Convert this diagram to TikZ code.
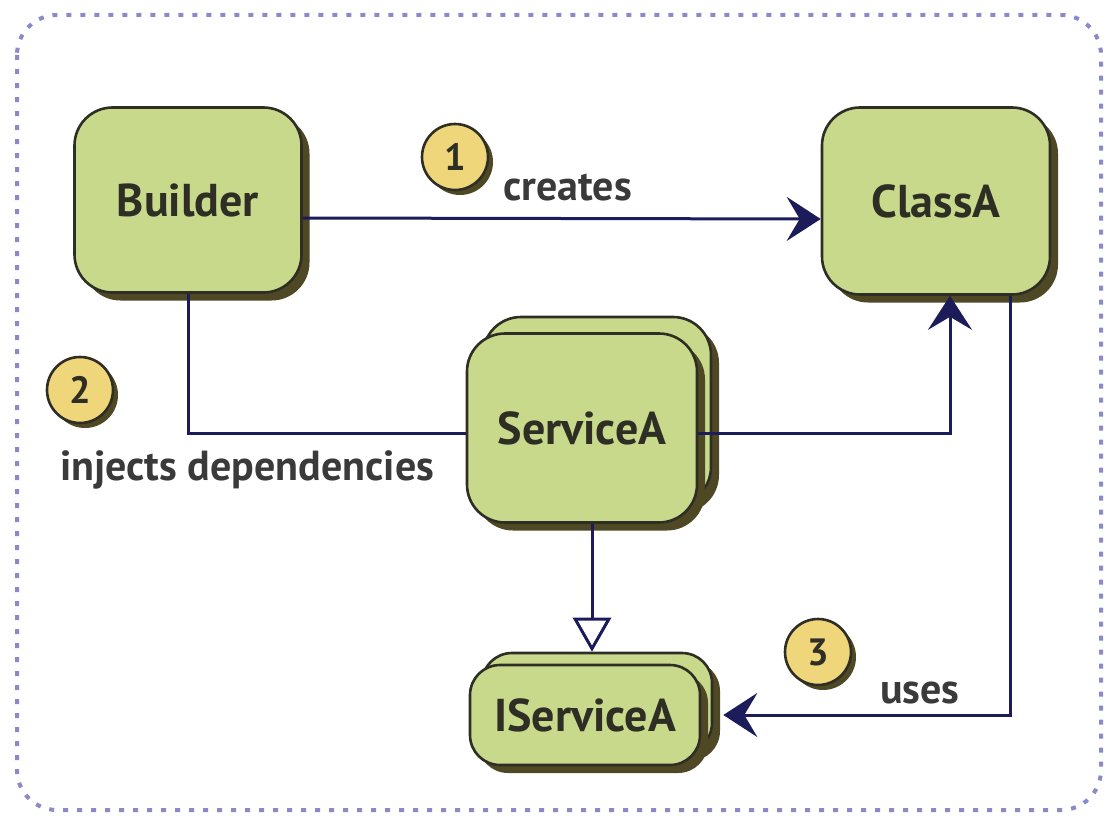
\documentclass[tikz,border=0pt]{standalone}
\usepackage{fontspec}
\setmainfont{PT Sans}
\usetikzlibrary{arrows.meta,shadows}
\definecolor{boxfill}{HTML}{C8D98C}
\definecolor{boxline}{HTML}{2E2E24}
\definecolor{shadowc}{HTML}{4F4824}
\definecolor{navy}{HTML}{1C1C5A}
\definecolor{frame}{HTML}{8A8AC8}
\definecolor{badge}{HTML}{F0D67A}
\definecolor{labtext}{HTML}{3A3A3A}
\tikzset{
  box/.style={draw=boxline, line width=2.6pt, fill=boxfill, rounded corners=38pt,
    text=boxline, font=\bfseries\fontsize{46}{52}\selectfont,
    drop shadow={shadow xshift=8pt, shadow yshift=-8pt, fill=shadowc, opacity=1}},
  smallbox/.style={box, rounded corners=30pt},
  badgec/.style={circle, draw=boxline, line width=2.6pt, fill=badge, minimum size=66pt, inner sep=0pt,
    text=boxline, font=\bfseries\fontsize{38}{42}\selectfont,
    drop shadow={shadow xshift=5pt, shadow yshift=-5pt, fill=shadowc, opacity=1}},
  lab/.style={text=labtext, font=\bfseries\fontsize{42}{48}\selectfont, inner sep=0pt},
  conn/.style={draw=navy, line width=3pt},
  arr/.style={conn, -{Stealth[length=34pt, width=44pt, inset=13pt]}},
  realize/.style={conn, -{Triangle[open, length=34pt, width=38pt, fill=white]}}
}
\begin{document}
\begin{tikzpicture}[x=1pt, y=-1pt]
\useasboundingbox (0,0) rectangle (1108,816);
\draw[frame, line width=4pt, dash pattern=on 5pt off 9pt, rounded corners=40pt] (17,15) rectangle (1101,810);

\node[box, minimum width=227pt, minimum height=185pt] (builder) at (188,200) {Builder};
\node[box, minimum width=228pt, minimum height=187pt] (classa) at (936,201) {ClassA};

\node[box, minimum width=228pt, minimum height=188pt] (svcback) at (597,411) {};
\node[box, minimum width=230pt, minimum height=189pt] (svc) at (582,428) {ServiceA};

\node[smallbox, minimum width=230pt, minimum height=100pt] (isvcback) at (597,703) {};
\node[smallbox, minimum width=230pt, minimum height=100pt] (isvc) at (585,715) {IServiceA};

\node[badgec] (b1) at (455,157) {1};
\node[badgec] (b2) at (80,390) {2};
\node[badgec] (b3) at (818,652) {3};

\node[lab, anchor=base west] (l1) at (503,200) {creates};
\node[lab, anchor=base west] (l2) at (60,480) {injects dependencies};
\node[lab, anchor=base west] (l3) at (880,703) {uses};

\coordinate (cA) at ([yshift=-18pt]builder.east);
\coordinate (cB) at ([yshift=-18pt]classa.west);
\draw[arr] (cA) -- (cB);

\coordinate (sIn) at ([yshift=-5pt]svc.west);
\draw[conn] (builder.south) |- (sIn);

\coordinate (sOut) at ([yshift=-5pt]svc.east);
\coordinate (cBot) at ([xshift=14pt]classa.south);
\draw[arr] (sOut) -| (cBot);

\coordinate (sBot) at ([xshift=10pt]svc.south);
\coordinate (iTop) at ([xshift=-5pt]isvcback.north);
\draw[realize] (sBot) -- (sBot |- iTop);

\coordinate (cBot2) at ([xshift=74pt]classa.south);
\coordinate (iEnd) at ([xshift=10pt]isvcback.east |- isvc.east);
\draw[arr] (cBot2) |- (iEnd);
\end{tikzpicture}
\end{document}
